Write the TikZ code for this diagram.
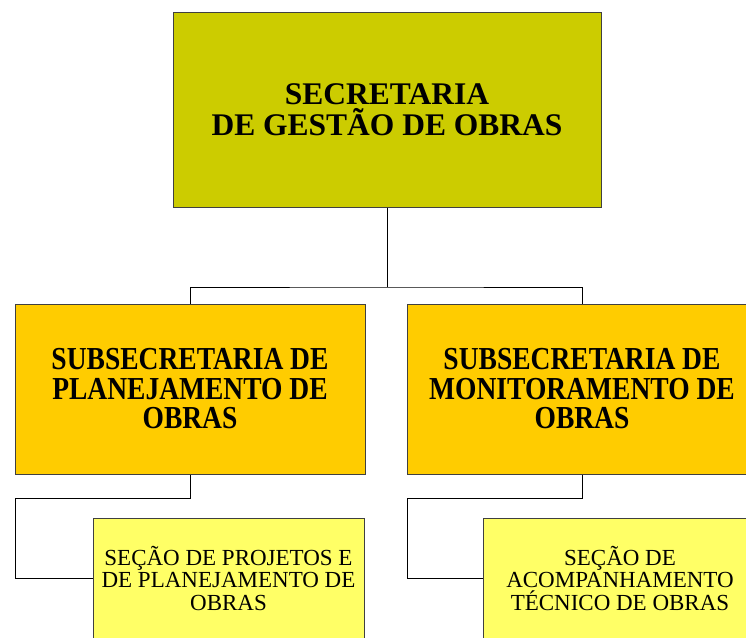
\documentclass[tikz,border=0pt]{standalone}
\usepackage{fontspec}
\setmainfont{Liberation Serif}
\newfontfamily\condfont{Liberation Serif}[FakeStretch=0.86]
\definecolor{topcol}{HTML}{CCCC00}
\definecolor{subcol}{HTML}{FFCC00}
\definecolor{seccol}{HTML}{FFFF66}
\definecolor{edgecol}{HTML}{404040}
\tikzset{
  box/.style={draw=edgecol, line width=1pt, rectangle, inner sep=0pt, align=center, text=black},
  topbox/.style={box, fill=topcol, minimum width=428pt, minimum height=195pt,
    font=\fontsize{31.5}{31}\selectfont\bfseries},
  subbox/.style={box, fill=subcol, minimum width=350pt, minimum height=170pt,
    font=\condfont\fontsize{32}{29.5}\selectfont\bfseries},
  secbox/.style={box, fill=seccol, minimum height=120pt,
    font=\fontsize{23}{22.5}\selectfont},
  link/.style={draw=black, line width=1pt}
}
\begin{document}
\begin{tikzpicture}[x=1pt,y=-1pt]
\useasboundingbox (0,0) rectangle (746,637);
\begin{scope}
\clip (0,0) rectangle (746,637);
\node[topbox] (top) at (387,109.5) {SECRETARIA\\DE GESTÃO DE OBRAS};
\node[subbox] (subL) at (190,389) {SUBSECRETARIA DE\\PLANEJAMENTO DE\\OBRAS};
\node[subbox] (subR) at (582,389) {SUBSECRETARIA DE\\MONITORAMENTO DE\\OBRAS};
\node[secbox, minimum width=271pt] (secL) at (228.5,578) {SEÇÃO DE PROJETOS E\\DE PLANEJAMENTO DE\\OBRAS};
\node[secbox, minimum width=274pt] (secR) at (620,578) {SEÇÃO DE\\ACOMPANHAMENTO\\TÉCNICO DE OBRAS};
\coordinate (j) at (387,287);
\coordinate (l1) at (15,498);
\coordinate (r1) at (407,498);
\draw[link] (top.south) -- (j);
\draw[link] (subL.north) |- (j) -| (subR.north);
\draw[link] (subL.south) |- (l1) |- (secL.west);
\draw[link] (subR.south) |- (r1) |- (secR.west);
\end{scope}
\end{tikzpicture}
\end{document}
